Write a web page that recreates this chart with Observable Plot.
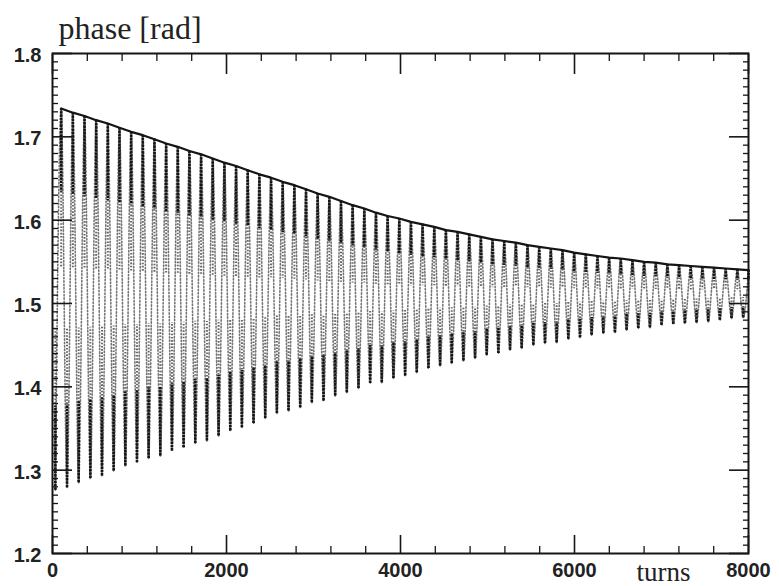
<!DOCTYPE html>
<html><head><meta charset="utf-8">
<script src="https://cdn.jsdelivr.net/npm/d3@7"></script>
<script src="https://cdn.jsdelivr.net/npm/@observablehq/plot@0.6"></script>
<style>body{margin:0;background:#fff} #chart{width:779px;height:586px}</style>
</head><body><div id="chart"></div>
<script>
// Turn numbers and phase values of the oscillation maxima
const peakTurns = [100, 234, 368, 502, 636, 770, 904, 1038, 1172, 1306, 1440, 1574, 1708, 1842, 1976, 2110, 2244, 2378, 2512, 2646, 2780, 2914, 3048, 3182, 3316, 3450, 3584, 3718, 3852, 3986, 4120, 4254, 4388, 4522, 4656, 4790, 4924, 5058, 5192, 5326, 5460, 5594, 5728, 5862, 5996, 6130, 6264, 6398, 6532, 6666, 6800, 6934, 7068, 7202, 7336, 7470, 7604, 7738, 7872, 8000];
const peakPhase = [1.734, 1.729, 1.725, 1.720, 1.716, 1.711, 1.706, 1.702, 1.697, 1.692, 1.688, 1.683, 1.679, 1.674, 1.669, 1.665, 1.660, 1.655, 1.651, 1.646, 1.642, 1.637, 1.632, 1.628, 1.623, 1.618, 1.614, 1.609, 1.605, 1.602, 1.598, 1.595, 1.592, 1.588, 1.586, 1.583, 1.580, 1.577, 1.575, 1.573, 1.570, 1.568, 1.566, 1.564, 1.561, 1.559, 1.557, 1.555, 1.554, 1.552, 1.550, 1.549, 1.547, 1.546, 1.545, 1.544, 1.543, 1.542, 1.541, 1.540];
// Turn numbers and phase values of the oscillation minima
const troughTurns = [33, 167, 301, 435, 569, 703, 837, 971, 1105, 1239, 1373, 1507, 1641, 1775, 1909, 2043, 2177, 2311, 2445, 2579, 2713, 2847, 2981, 3115, 3249, 3383, 3517, 3651, 3785, 3919, 4053, 4187, 4321, 4455, 4589, 4723, 4857, 4991, 5125, 5259, 5393, 5527, 5661, 5795, 5929, 6063, 6197, 6331, 6465, 6599, 6733, 6867, 7001, 7135, 7269, 7403, 7537, 7671, 7805, 7939];
const troughPhase = [1.276, 1.279, 1.285, 1.290, 1.293, 1.299, 1.305, 1.309, 1.314, 1.317, 1.323, 1.327, 1.332, 1.335, 1.341, 1.347, 1.351, 1.356, 1.362, 1.368, 1.371, 1.375, 1.381, 1.383, 1.389, 1.393, 1.398, 1.404, 1.405, 1.410, 1.413, 1.417, 1.422, 1.425, 1.428, 1.431, 1.434, 1.438, 1.440, 1.444, 1.446, 1.450, 1.452, 1.453, 1.457, 1.459, 1.462, 1.464, 1.465, 1.468, 1.470, 1.471, 1.474, 1.475, 1.476, 1.477, 1.478, 1.480, 1.482, 1.483];

const xMajorTicks = [0, 2000, 4000, 6000, 8000];
const xTickLabels = ["0", "2000", "4000", "6000", "8000"];
const yMajorTicks = [1.2, 1.3, 1.4, 1.5, 1.6, 1.7, 1.8];
const yTickLabels = ["1.2", "1.3", "1.4", "1.5", "1.6", "1.7", "1.8"];
const xMinorStep = 400;
const titleText = "phase [rad]";
const xLabelText = "turns";

const xMinorTicks = d3.range(0, 8001, xMinorStep).filter(t => t % 2000 !== 0);
const yMinorTicks = d3.range(120, 181).filter(v => v % 10 !== 0).map(v => v / 100);

const peaks = peakTurns.map((t, i) => ({turn: t, phase: peakPhase[i], kind: "peak"}));
const troughs = troughTurns.map((t, i) => ({turn: t, phase: troughPhase[i], kind: "trough"}));
const extrema = [...peaks, ...troughs].sort((a, b) => a.turn - b.turn);
extrema.forEach((d, i) => {
  const p = extrema[i - 1] || extrema[i + 1];
  const n = extrema[i + 1] || extrema[i - 1];
  d.swing = (Math.abs(d.phase - p.phase) + Math.abs(d.phase - n.phase)) / 2;
  d.sign = d.kind === "peak" ? -1 : 1;
});

const ink = "#151515";
const tickFont = {fontFamily: "Liberation Sans", fontSize: 20, fontWeight: "bold", fill: "#222"};
const noText = () => "";

const chart = Plot.plot({
  width: 779, height: 586,
  marginLeft: 52, marginRight: 31, marginTop: 53, marginBottom: 33,
  x: {domain: [0, 8000]},
  y: {domain: [1.2, 1.8]},
  marks: [
    // sampled oscillation (dotted)
    Plot.line(extrema, {x: "turn", y: "phase", curve: "monotone-x", stroke: "#3a3a3a", strokeWidth: 1.6, strokeDasharray: "1.4,2", strokeOpacity: 0.7}),
    // denser streaks near the turning points
    Plot.ruleX(extrema, {x: "turn", y1: "phase", y2: d => d.phase + d.sign * 0.42 * d.swing, stroke: "#333", strokeWidth: 2, strokeDasharray: "1.6,1.6", strokeOpacity: 0.75}),
    Plot.ruleX(extrema, {x: "turn", y1: "phase", y2: d => d.phase + d.sign * 0.22 * d.swing, stroke: ink, strokeWidth: 2.6, strokeDasharray: "2.5,0.8"}),
    // upper envelope
    Plot.line(peaks, {x: "turn", y: "phase", stroke: ink, strokeWidth: 2.2}),
    Plot.frame({stroke: ink, strokeWidth: 2}),
    // inward ticks, all four sides
    Plot.axisX({anchor: "bottom", ticks: xMajorTicks, tickSize: -18, tickFormat: noText, label: null, stroke: ink, strokeWidth: 1.6}),
    Plot.axisX({anchor: "bottom", ticks: xMinorTicks, tickSize: -7, tickFormat: noText, label: null, stroke: ink, strokeWidth: 1.3}),
    Plot.axisX({anchor: "top", ticks: xMajorTicks, tickSize: -20, tickFormat: noText, label: null, stroke: ink, strokeWidth: 1.6}),
    Plot.axisX({anchor: "top", ticks: xMinorTicks, tickSize: -7, tickFormat: noText, label: null, stroke: ink, strokeWidth: 1.3}),
    Plot.axisY({anchor: "left", ticks: yMajorTicks, tickSize: -20, tickFormat: noText, label: null, stroke: ink, strokeWidth: 1.6}),
    Plot.axisY({anchor: "left", ticks: yMinorTicks, tickSize: -6, tickFormat: noText, label: null, stroke: ink, strokeWidth: 1.3}),
    Plot.axisY({anchor: "right", ticks: yMajorTicks, tickSize: -20, tickFormat: noText, label: null, stroke: ink, strokeWidth: 1.6}),
    Plot.axisY({anchor: "right", ticks: yMinorTicks, tickSize: -6, tickFormat: noText, label: null, stroke: ink, strokeWidth: 1.3}),
    // tick labels
    Plot.axisX({anchor: "bottom", ticks: xMajorTicks, tickSize: 0, tickPadding: 9, tickFormat: d => xTickLabels[xMajorTicks.indexOf(d)], label: null, ...tickFont}),
    Plot.axisY({anchor: "left", ticks: yMajorTicks, tickSize: 0, tickPadding: 11, dy: 2, tickFormat: d => yTickLabels[yMajorTicks.findIndex(v => Math.abs(v - d) < 1e-9)], label: null, ...tickFont}),
    // title and axis label
    Plot.text([titleText], {text: d => d, frameAnchor: "top-left", dx: 6, dy: -15, lineAnchor: "bottom", textAnchor: "start", fontFamily: "Liberation Serif", fontSize: 32, fill: "#222"}),
    Plot.text([xLabelText], {text: d => d, frameAnchor: "bottom-right", dx: -58, dy: 27, lineAnchor: "bottom", textAnchor: "end", fontFamily: "Liberation Serif", fontSize: 27, fill: "#222"})
  ]
});
document.getElementById("chart").appendChild(chart);
</script>
</body></html>
